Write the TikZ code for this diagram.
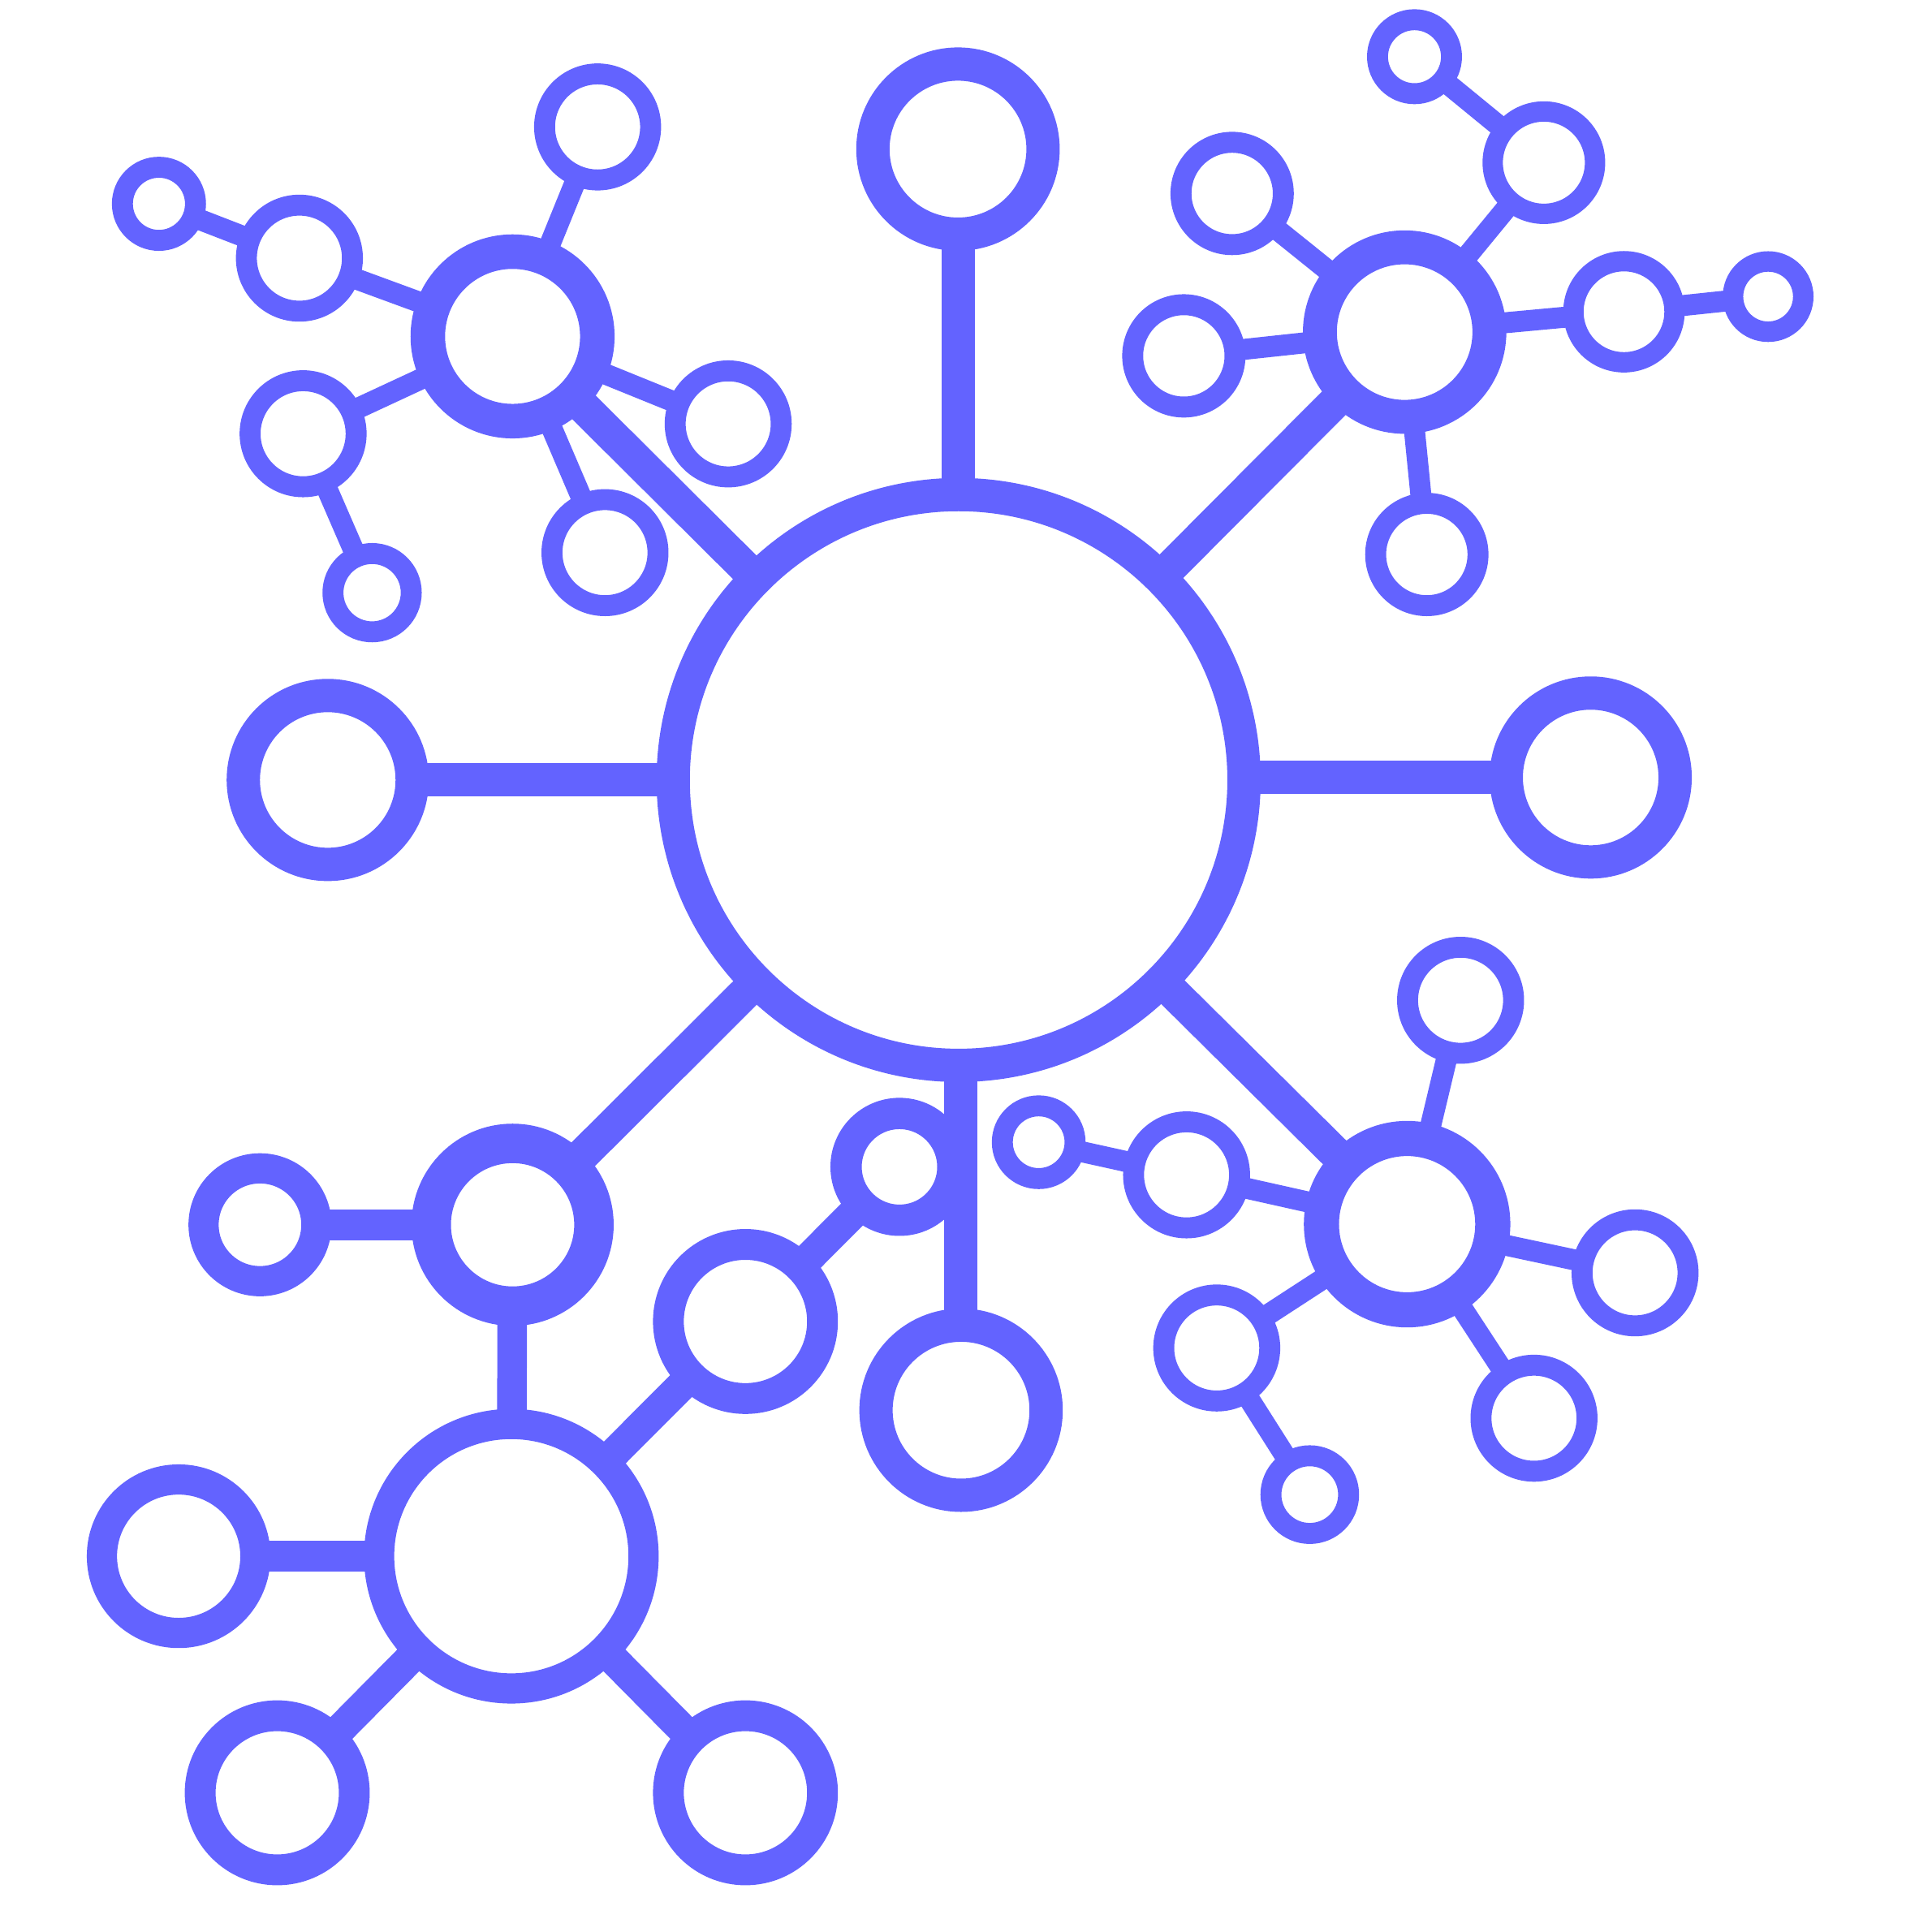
\documentclass[tikz,border=0pt]{standalone}
\definecolor{netblue}{RGB}{99,99,255}
\begin{document}
\begin{tikzpicture}[x=0.01cm,y=-0.01cm,
  ring/.style={circle,draw=netblue,fill=none,line width=#1,inner sep=0pt,outer sep=0pt},
  conn/.style={draw=netblue,line width=#1}]
\useasboundingbox (0,0) rectangle (1568,1568);
% central and big rings
\node[ring=0.27cm,minimum size=4.63cm] (c0) at (778,633) {};
\node[ring=0.27cm,minimum size=1.38cm] (t) at (777.5,121) {};
\node[ring=0.27cm,minimum size=1.37cm] (l) at (266,633) {};
\node[ring=0.27cm,minimum size=1.37cm] (r) at (1291,631) {};
\node[ring=0.27cm,minimum size=1.38cm] (b) at (780,1144.5) {};
\node[ring=0.28cm,minimum size=1.375cm] (A) at (416,273) {};
\node[ring=0.275cm,minimum size=1.375cm] (B) at (1140,269.5) {};
\node[ring=0.285cm,minimum size=1.39cm] (C) at (1142,993.5) {};
\node[ring=0.32cm,minimum size=1.32cm] (D) at (416,994) {};
% upper-left cluster
\node[ring=0.17cm,minimum size=0.86cm] (a1) at (485,103) {};
\node[ring=0.17cm,minimum size=0.86cm] (a2) at (243,209.5) {};
\node[ring=0.17cm,minimum size=0.593cm] (a3) at (129,165.4) {};
\node[ring=0.17cm,minimum size=0.86cm] (a4) at (246,352) {};
\node[ring=0.17cm,minimum size=0.635cm] (a5) at (302,481) {};
\node[ring=0.17cm,minimum size=0.86cm] (a6) at (591,344) {};
\node[ring=0.17cm,minimum size=0.86cm] (a7) at (491,448.5) {};
% upper-right cluster
\node[ring=0.17cm,minimum size=0.60cm] (b1) at (1148,46) {};
\node[ring=0.165cm,minimum size=0.83cm] (b2) at (1253,132) {};
\node[ring=0.17cm,minimum size=0.83cm] (b3) at (1000,157) {};
\node[ring=0.17cm,minimum size=0.83cm] (b4) at (960.8,288.8) {};
\node[ring=0.165cm,minimum size=0.82cm] (b5) at (1318,253) {};
\node[ring=0.166cm,minimum size=0.57cm] (b6) at (1435,240.7) {};
\node[ring=0.17cm,minimum size=0.83cm] (b7) at (1158,450) {};
% lower-right cluster
\node[ring=0.17cm,minimum size=0.86cm] (c1) at (1185.4,811.8) {};
\node[ring=0.17cm,minimum size=0.86cm] (c2) at (963,953.5) {};
\node[ring=0.17cm,minimum size=0.59cm] (c3) at (843,927) {};
\node[ring=0.17cm,minimum size=0.86cm] (c4) at (1327,1033) {};
\node[ring=0.17cm,minimum size=0.86cm] (c5) at (1245,1151) {};
\node[ring=0.17cm,minimum size=0.86cm] (c6) at (987.5,1094) {};
\node[ring=0.17cm,minimum size=0.63cm] (c7) at (1063,1213) {};
% lower-left cluster
\node[ring=0.245cm,minimum size=0.915cm] (d1) at (211,994) {};
\node[ring=0.245cm,minimum size=2.145cm] (E) at (415,1263) {};
\node[ring=0.245cm,minimum size=1.245cm] (e1) at (145,1263) {};
\node[ring=0.25cm,minimum size=1.25cm] (e2) at (225,1455) {};
\node[ring=0.25cm,minimum size=1.25cm] (e3) at (605,1455) {};
\node[ring=0.25cm,minimum size=1.25cm] (e4) at (605,1072.5) {};
\node[ring=0.254cm,minimum size=0.866cm] (e5) at (730,947) {};
% connectors
\draw[conn=0.27cm] (t.south) -- (t.south |- c0.north);
\draw[conn=0.27cm] (c0) -- (l);
\draw[conn=0.27cm] (r.west) -- (r.west -| c0.east);
\draw[conn=0.27cm] (b.north) -- (b.north |- c0.south);
\draw[conn=0.27cm] (c0) -- (A);
\draw[conn=0.27cm] (c0) -- (B);
\draw[conn=0.27cm] (c0) -- (C);
\draw[conn=0.27cm] (c0) -- (D);
\draw[conn=0.17cm] (A) -- (a1);
\draw[conn=0.17cm] (A) -- (a2);
\draw[conn=0.17cm] (a2) -- (a3);
\draw[conn=0.17cm] (A) -- (a4);
\draw[conn=0.17cm] (a4) -- (a5);
\draw[conn=0.17cm] (A) -- (a6);
\draw[conn=0.17cm] (A) -- (a7);
\draw[conn=0.17cm] (B) -- (b2);
\draw[conn=0.17cm] (b2) -- (b1);
\draw[conn=0.17cm] (B) -- (b3);
\draw[conn=0.17cm] (B) -- (b4);
\draw[conn=0.17cm] (B) -- (b5);
\draw[conn=0.17cm] (b5) -- (b6);
\draw[conn=0.17cm] (B) -- (b7);
\draw[conn=0.17cm] (C) -- (c1);
\draw[conn=0.17cm] (C) -- (c2);
\draw[conn=0.17cm] (c2) -- (c3);
\draw[conn=0.17cm] (C) -- (c4);
\draw[conn=0.17cm] (C) -- (c5);
\draw[conn=0.17cm] (C) -- (c6);
\draw[conn=0.17cm] (c6) -- (c7);
\draw[conn=0.25cm] (D) -- (d1);
\draw[conn=0.24cm] (D) -- (E);
\draw[conn=0.25cm] (E) -- (e1);
\draw[conn=0.25cm] (E) -- (e2);
\draw[conn=0.25cm] (E) -- (e3);
\draw[conn=0.25cm] (E) -- (e4);
\draw[conn=0.25cm] (e4) -- (e5);
\end{tikzpicture}
\end{document}
